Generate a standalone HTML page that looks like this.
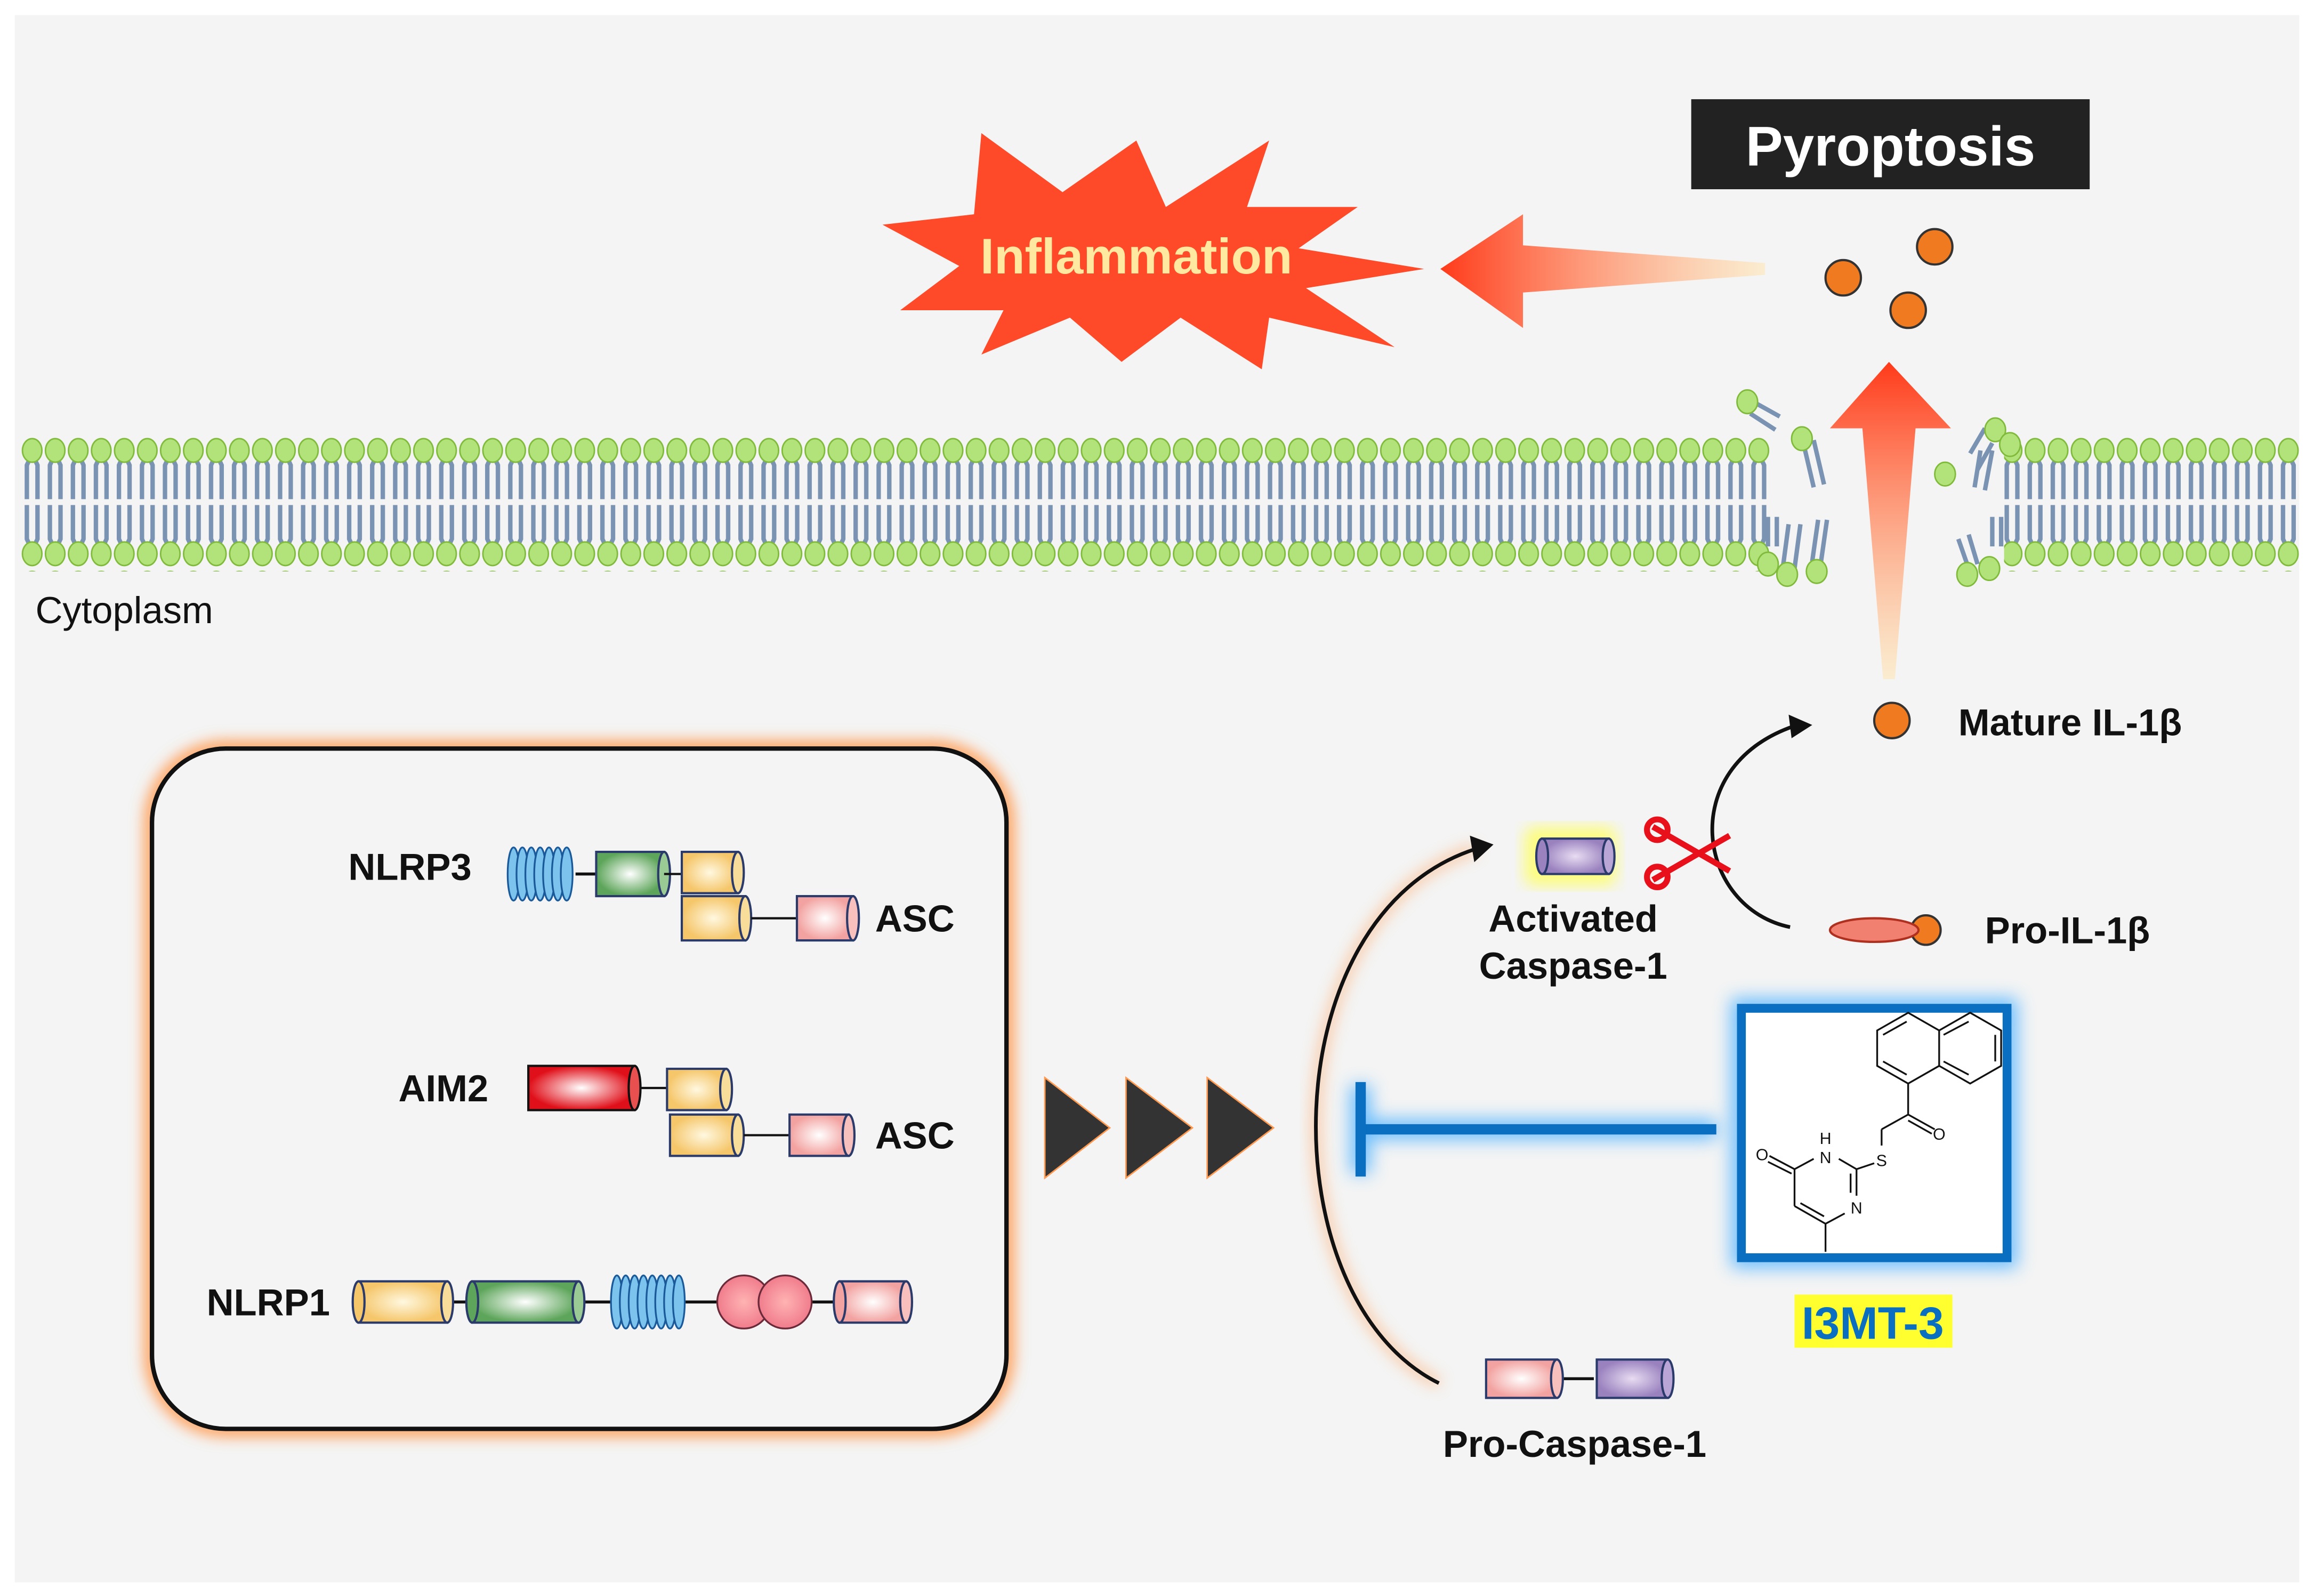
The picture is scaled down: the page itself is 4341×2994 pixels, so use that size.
<!DOCTYPE html>
<html><head><meta charset="utf-8"><style>
html,body{margin:0;padding:0;background:#fff;}
svg{display:block;}
text{font-family:"Liberation Sans",sans-serif;}
</style></head><body>
<svg width="4341" height="2994" viewBox="0 0 1568 1081" xmlns="http://www.w3.org/2000/svg">
<defs>
<pattern id="mem" x="14" y="295" width="15.6" height="90" patternUnits="userSpaceOnUse">
 <path d="M4.2 43 V20 L6.5 15 M11.4 43 V20 L9.1 15" fill="none" stroke="#7a93b3" stroke-width="3"/>
 <path d="M4.2 47 V70 L6.5 75 M11.4 47 V70 L9.1 75" fill="none" stroke="#7a93b3" stroke-width="3"/>
 <ellipse cx="7.8" cy="10" rx="6.6" ry="8" fill="#b2e27a" stroke="#7fba3a" stroke-width="1"/>
 <ellipse cx="7.8" cy="80" rx="6.6" ry="8" fill="#b2e27a" stroke="#7fba3a" stroke-width="1"/>
</pattern>
<linearGradient id="arrL" x1="0" x2="1" y1="0" y2="0"><stop offset="0" stop-color="#ff3a1a"/><stop offset="1" stop-color="#ffe7b8" stop-opacity="0.6"/></linearGradient>
<linearGradient id="arrU" x1="0" x2="0" y1="0" y2="1"><stop offset="0" stop-color="#ff3a1a"/><stop offset="1" stop-color="#ffe7b8" stop-opacity="0.6"/></linearGradient>
<radialGradient id="gY"><stop offset="0" stop-color="#fff8e0"/><stop offset="1" stop-color="#f5c66a"/></radialGradient>
<radialGradient id="gG"><stop offset="0" stop-color="#ffffff"/><stop offset="1" stop-color="#5da55a"/></radialGradient>
<radialGradient id="gP"><stop offset="0" stop-color="#ffffff"/><stop offset="1" stop-color="#f2a2a0"/></radialGradient>
<radialGradient id="gR"><stop offset="0" stop-color="#ffffff"/><stop offset="1" stop-color="#e0101a"/></radialGradient>
<radialGradient id="gV"><stop offset="0" stop-color="#e8dcf2"/><stop offset="1" stop-color="#9a82bf"/></radialGradient>
<radialGradient id="gC"><stop offset="0" stop-color="#ffb3b3"/><stop offset="1" stop-color="#f07c8c"/></radialGradient>
<filter id="glowO" x="-10%" y="-10%" width="120%" height="120%"><feGaussianBlur stdDeviation="5"/></filter>
<filter id="glowB" x="-20%" y="-20%" width="140%" height="140%"><feGaussianBlur stdDeviation="6"/></filter>
</defs>
<rect width="1568" height="1081" fill="#fff"/>
<rect x="10" y="10" width="1548" height="1062" fill="#f4f4f4"/>

<!-- membrane -->
<rect x="14" y="295" width="1185" height="92" fill="url(#mem)"/>
<rect x="1358" y="295" width="200" height="92" fill="url(#mem)"/>
<g stroke="#7a93b3" stroke-width="3" fill="none">
<path d="M1188 272 L1206 282 M1186 280 L1203 291"/><path d="M1222 300 L1229 330 M1229 298 L1236 328"/>
<path d="M1198 370 V350 M1204 370 V350 M1208 385 L1212 355 M1216 385 L1220 355 M1228 380 L1232 352 M1234 380 L1238 352"/>
<path d="M1335 307 L1345 290 M1340 318 L1350 300"/><path d="M1338 330 L1342 305 M1345 332 L1350 305"/>
<path d="M1327 365 L1334 385 M1334 362 L1340 382 M1350 370 V350 M1356 370 V350"/>
</g>
<g fill="#b2e27a" stroke="#7fba3a" stroke-width="1">
<ellipse cx="1184" cy="272" rx="7" ry="8"/><ellipse cx="1221" cy="297" rx="7" ry="8"/><ellipse cx="1198" cy="382" rx="7" ry="8"/><ellipse cx="1211" cy="389" rx="7" ry="8"/><ellipse cx="1231" cy="387" rx="7" ry="8"/>
<ellipse cx="1352" cy="291" rx="7" ry="8"/><ellipse cx="1362" cy="301" rx="7" ry="8"/><ellipse cx="1318" cy="321" rx="7" ry="8"/><ellipse cx="1333" cy="389" rx="7" ry="8"/><ellipse cx="1348" cy="385" rx="7" ry="8"/>
</g>

<text x="24" y="422" font-size="25.5" fill="#111">Cytoplasm</text>

<rect x="1146" y="67" width="270" height="61" fill="#222"/>
<text x="1281" y="112" font-size="38" font-weight="bold" fill="#fff" text-anchor="middle">Pyroptosis</text>

<polygon fill="#ff4a2a" points="598,152 660,145 665,90 720,130 770,95 790,140 860,95 845,140 920,140 880,168 965,182 885,195 945,235 860,215 855,250 800,215 760,245 725,215 665,240 680,210 610,210 650,180" />
<text x="770" y="185" font-size="34" font-weight="bold" fill="#ffe9a0" text-anchor="middle">Inflammation</text>

<polygon points="976,182 1032,145 1032,166 1196,178 1196,186 1032,198 1032,222" fill="url(#arrL)"/>
<polygon points="1280,245 1322,290 1298,290 1284,460 1276,460 1262,290 1240,290" fill="url(#arrU)"/>

<g fill="#f07a20" stroke="#333" stroke-width="1.5">
<circle cx="1249" cy="188" r="12"/><circle cx="1311" cy="167" r="12"/><circle cx="1293" cy="210" r="12"/>
<circle cx="1282" cy="488" r="12"/><circle cx="1305" cy="630" r="10"/>
</g>
<text x="1327" y="498" font-size="25.5" font-weight="bold" fill="#111">Mature IL-1β</text>
<ellipse cx="1270" cy="630" rx="30" ry="8" fill="#f28070" stroke="#b03020" stroke-width="1.5"/>
<text x="1345" y="639" font-size="25.5" font-weight="bold" fill="#111">Pro-IL-1β</text>

<path d="M1213 628 C1150 615 1135 520 1215 492" fill="none" stroke="#111" stroke-width="2.5"/>
<polygon points="1228,491 1212,484 1214,500" fill="#111"/>
<g stroke="#e8101a" stroke-width="4" fill="none">
<line x1="1120" y1="560" x2="1172" y2="590"/><line x1="1120" y1="596" x2="1172" y2="566"/>
<circle cx="1123" cy="562" r="7"/><circle cx="1123" cy="594" r="7"/>
</g>

<rect x="1033" y="560" width="62" height="40" rx="6" fill="#ffff60" opacity="0.8" filter="url(#glowO)"/>
<rect x="1045" y="568" width="45" height="24" fill="url(#gV)" stroke="#2a3a6a" stroke-width="1.5"/>
<ellipse cx="1045" cy="580" rx="4" ry="12" fill="#9a82bf" stroke="#2a3a6a" stroke-width="1.5"/>
<ellipse cx="1090" cy="580" rx="4" ry="12" fill="#b9a6d6" stroke="#2a3a6a" stroke-width="1.5"/>
<text x="1066" y="631" font-size="25.5" font-weight="bold" fill="#111" text-anchor="middle">Activated</text>
<text x="1066" y="663" font-size="25.5" font-weight="bold" fill="#111" text-anchor="middle">Caspase-1</text>

<rect x="103" y="507" width="579" height="461" rx="50" fill="none" stroke="#ff9a50" stroke-width="10" filter="url(#glowO)"/>
<rect x="103" y="507" width="579" height="461" rx="50" fill="#f4f4f4" stroke="#111" stroke-width="3"/>

<g fill="#333" stroke="#ff9a50" stroke-width="1">
<polygon points="708,730 752,764 708,798"/><polygon points="763,730 808,764 763,798"/><polygon points="818,730 863,764 818,798"/>
</g>

<path d="M975 937 C860 880 860 620 1000 575" fill="none" stroke="#ff9a50" stroke-width="7" opacity="0.5" filter="url(#glowO)"/>
<path d="M975 937 C860 880 860 620 1000 575" fill="none" stroke="#111" stroke-width="2.5"/>
<polygon points="1012,572 996,566 999,584" fill="#111"/>

<g filter="url(#glowB)" stroke="#4ab0ff" stroke-width="14" opacity="0.8">
<line x1="1163" y1="765" x2="922" y2="765"/><line x1="922" y1="735" x2="922" y2="795"/>
<rect x="1180" y="683" width="180" height="169" fill="none"/>
</g>
<g stroke="#0a6fc0" stroke-width="7">
<line x1="1163" y1="765" x2="922" y2="765"/><line x1="922" y1="733" x2="922" y2="797"/>
</g>
<rect x="1180" y="683" width="180" height="169" fill="#fff" stroke="#0a6fc0" stroke-width="6"/>
<g stroke="#111" stroke-width="1.2" fill="none">
<polygon points="1293,686 1272,698 1272,722 1293,734 1314,722 1314,698"/>
<polyline points="1314,698 1335,686 1356,698 1356,722 1335,734 1314,722"/>
<line x1="1276" y1="701" x2="1292" y2="692"/><line x1="1276" y1="719" x2="1292" y2="728"/>
<line x1="1317" y1="701" x2="1334" y2="692"/><line x1="1317" y1="719" x2="1334" y2="728"/><line x1="1352" y1="701" x2="1352" y2="719"/>
<line x1="1293" y1="734" x2="1293" y2="755"/>
<line x1="1293" y1="755" x2="1311" y2="765"/><line x1="1293" y1="759" x2="1309" y2="768"/>
<line x1="1293" y1="755" x2="1275" y2="765"/><line x1="1275" y1="765" x2="1275" y2="776"/>
<line x1="1270" y1="788" x2="1258" y2="792"/><line x1="1258" y1="792" x2="1246" y2="785"/>
<line x1="1229" y1="785" x2="1216" y2="792"/>
<line x1="1216" y1="792" x2="1199" y2="783"/><line x1="1214" y1="795" x2="1198" y2="787"/>
<line x1="1216" y1="792" x2="1216" y2="817"/><line x1="1216" y1="817" x2="1237" y2="829"/><line x1="1220" y1="815" x2="1236" y2="824"/>
<line x1="1237" y1="829" x2="1250" y2="822"/>
<line x1="1258" y1="792" x2="1258" y2="810"/><line x1="1254" y1="795" x2="1254" y2="808"/>
<line x1="1237" y1="829" x2="1237" y2="848"/>
</g>
<g font-size="11" fill="#111" text-anchor="middle">
<text x="1314" y="772">O</text><text x="1194" y="786">O</text><text x="1237" y="775">H</text><text x="1237" y="788">N</text><text x="1275" y="790">S</text><text x="1258" y="822">N</text>
</g>
<rect x="1216" y="877" width="107" height="36" fill="#ffff30"/>
<text x="1269" y="907" font-size="31" font-weight="bold" fill="#0a6fc0" text-anchor="middle">I3MT-3</text>

<line x1="1055" y1="934" x2="1080" y2="934" stroke="#111" stroke-width="2"/>
<rect x="1007" y="921" width="48" height="26" fill="url(#gP)" stroke="#2a3a6a" stroke-width="1.5"/>
<ellipse cx="1055" cy="934" rx="4" ry="13" fill="#f8c0bc" stroke="#2a3a6a" stroke-width="1.5"/>
<rect x="1082" y="921" width="48" height="26" fill="url(#gV)" stroke="#2a3a6a" stroke-width="1.5"/>
<ellipse cx="1130" cy="934" rx="4" ry="13" fill="#b9a6d6" stroke="#2a3a6a" stroke-width="1.5"/>
<text x="1067" y="987" font-size="25.5" font-weight="bold" fill="#111" text-anchor="middle">Pro-Caspase-1</text>

<text x="236" y="596" font-size="25.5" font-weight="bold" fill="#111">NLRP3</text>
<g fill="#7cc4ee" stroke="#1a5a9a" stroke-width="1.2">
<ellipse cx="348" cy="592" rx="4" ry="18"/><ellipse cx="354" cy="592" rx="4" ry="18"/><ellipse cx="360" cy="592" rx="4" ry="18"/><ellipse cx="366" cy="592" rx="4" ry="18"/><ellipse cx="372" cy="592" rx="4" ry="18"/><ellipse cx="378" cy="592" rx="4" ry="18"/><ellipse cx="384" cy="592" rx="4" ry="18"/>
</g>
<line x1="390" y1="592" x2="404" y2="592" stroke="#111" stroke-width="2"/>
<g stroke="#2a3a6a" stroke-width="1.5">
<rect x="404" y="577" width="46" height="30" fill="url(#gG)"/><ellipse cx="450" cy="592" rx="4" ry="15" fill="#9acb94"/>
<line x1="450" y1="592" x2="462" y2="592" stroke="#111"/>
<rect x="462" y="577" width="38" height="28" fill="url(#gY)"/><ellipse cx="500" cy="591" rx="4" ry="14" fill="#f8dc9a"/>
<rect x="462" y="607" width="43" height="30" fill="url(#gY)"/><ellipse cx="505" cy="622" rx="4" ry="15" fill="#f8dc9a"/>
<line x1="509" y1="622" x2="540" y2="622" stroke="#111"/>
<rect x="540" y="607" width="38" height="30" fill="url(#gP)"/><ellipse cx="578" cy="622" rx="4" ry="15" fill="#f8c0bc"/>
</g>
<text x="593" y="631" font-size="25.5" font-weight="bold" fill="#111">ASC</text>

<text x="270" y="746" font-size="25.5" font-weight="bold" fill="#111">AIM2</text>
<g stroke="#2a3a6a" stroke-width="1.5">
<rect x="358" y="722" width="72" height="30" fill="url(#gR)" stroke="#111"/><ellipse cx="430" cy="737" rx="4" ry="15" fill="#e85050" stroke="#111"/>
<line x1="434" y1="737" x2="452" y2="737" stroke="#111"/>
<rect x="452" y="724" width="40" height="28" fill="url(#gY)"/><ellipse cx="492" cy="738" rx="4" ry="14" fill="#f8dc9a"/>
<rect x="454" y="755" width="46" height="28" fill="url(#gY)"/><ellipse cx="500" cy="769" rx="4" ry="14" fill="#f8dc9a"/>
<line x1="504" y1="769" x2="535" y2="769" stroke="#111"/>
<rect x="535" y="755" width="40" height="28" fill="url(#gP)"/><ellipse cx="575" cy="769" rx="4" ry="14" fill="#f8c0bc"/>
</g>
<text x="593" y="778" font-size="25.5" font-weight="bold" fill="#111">ASC</text>

<text x="140" y="891" font-size="25.5" font-weight="bold" fill="#111">NLRP1</text>
<line x1="303" y1="882" x2="567" y2="882" stroke="#111" stroke-width="2"/>
<g stroke="#2a3a6a" stroke-width="1.5">
<rect x="243" y="868" width="60" height="28" fill="url(#gY)"/><ellipse cx="243" cy="882" rx="4" ry="14" fill="#f5c66a"/><ellipse cx="303" cy="882" rx="4" ry="14" fill="#f8dc9a"/>
<rect x="320" y="868" width="72" height="28" fill="url(#gG)"/><ellipse cx="320" cy="882" rx="4" ry="14" fill="#5da55a"/><ellipse cx="392" cy="882" rx="4" ry="14" fill="#9acb94"/>
</g>
<g fill="#7cc4ee" stroke="#1a5a9a" stroke-width="1.2">
<ellipse cx="418" cy="882" rx="4" ry="18"/><ellipse cx="424" cy="882" rx="4" ry="18"/><ellipse cx="430" cy="882" rx="4" ry="18"/><ellipse cx="436" cy="882" rx="4" ry="18"/><ellipse cx="442" cy="882" rx="4" ry="18"/><ellipse cx="448" cy="882" rx="4" ry="18"/><ellipse cx="454" cy="882" rx="4" ry="18"/><ellipse cx="460" cy="882" rx="4" ry="18"/>
</g>
<circle cx="504" cy="882" r="18" fill="url(#gC)" stroke="#6a2a3a" stroke-width="1.2"/>
<circle cx="532" cy="882" r="18" fill="url(#gC)" stroke="#6a2a3a" stroke-width="1.2"/>
<g stroke="#2a3a6a" stroke-width="1.5">
<rect x="569" y="868" width="45" height="28" fill="url(#gP)"/><ellipse cx="569" cy="882" rx="4" ry="14" fill="#f2a2a0"/><ellipse cx="614" cy="882" rx="4" ry="14" fill="#f8c0bc"/>
</g>
</svg>
</body></html>
